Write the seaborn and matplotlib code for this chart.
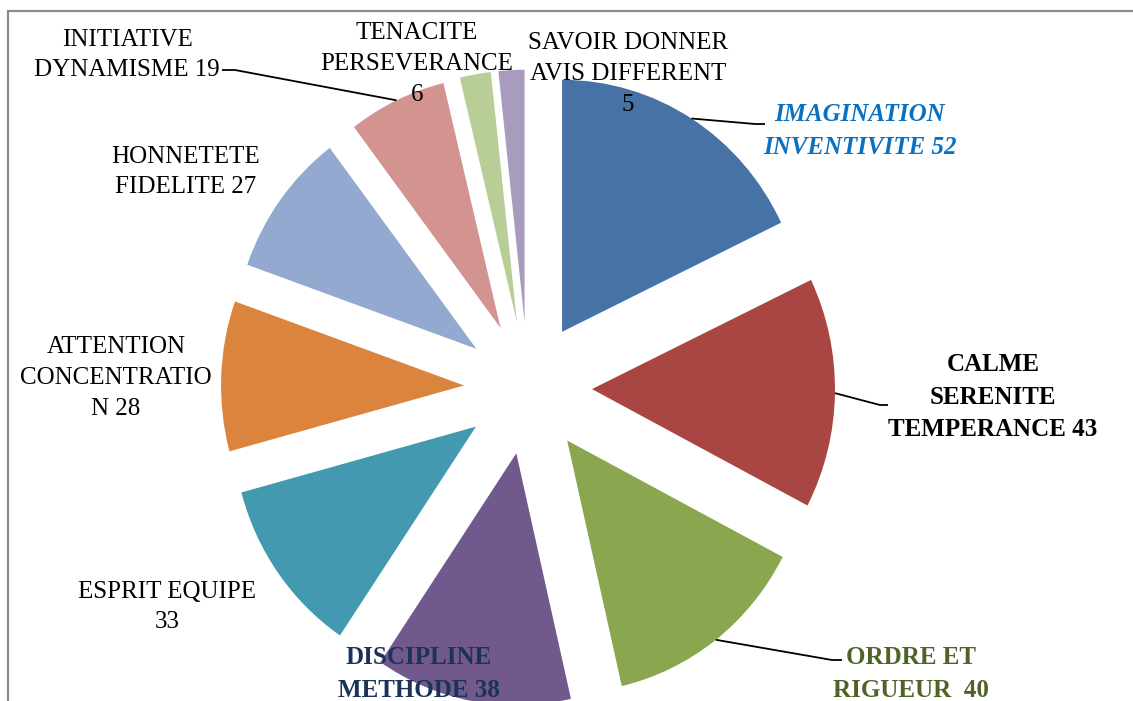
import numpy as np
import matplotlib
matplotlib.use("Agg")
import matplotlib.pyplot as plt
import seaborn as sns

# ---- data ----
categories = ["IMAGINATION\nINVENTIVITE", "CALME\nSERENITE\nTEMPERANCE", "ORDRE ET\nRIGUEUR",
              "DISCIPLINE\nMETHODE", "ESPRIT EQUIPE", "ATTENTION\nCONCENTRATIO\nN",
              "HONNETETE\nFIDELITE", "INITIATIVE\nDYNAMISME", "TENACITE\nPERSEVERANCE",
              "SAVOIR DONNER\nAVIS DIFFERENT"]
values = [52, 43, 40, 38, 33, 28, 27, 19, 6, 5]
value_sep = [" ", " ", "  ", " ", "\n", " ", " ", " ", "\n", "\n"]

# ---- styles ----
slice_colors = ["#4672A6", "#A94643", "#8AA64F", "#71598E", "#4299B0",
                "#DB843D", "#94A9D0", "#D29391", "#B9CE96", "#A99BBD"]
label_colors = ["#0A70C0", "black", "#4F6228", "#1B3356", "black",
                "black", "black", "black", "black", "black"]
label_weight = ["bold", "bold", "bold", "bold", "normal",
                "normal", "normal", "normal", "normal", "normal"]
label_style = ["italic"] + ["normal"] * 9
label_pos = [(860, 131), (993, 397), (911, 674), (419, 674), (167, 607),
             (116, 378), (186, 172), (127, 55), (417, 64), (628, 74)]
# leader lines: (elbow, end) in pixel coords, only for some labels
leaders = {0: [(755, 124), (765, 124)], 1: [(880, 405), (888, 405)],
           2: [(832, 660), (842, 660)], 7: [(235, 70), (222, 70)]}

W, H = 1133, 701
SY = 1.037  # vertical stretch of the original picture
sns.set_style("white")
plt.rcParams["font.family"] = ["Liberation Serif", "DejaVu Serif"]

fig = plt.figure(figsize=(W / 100, H / 100), dpi=100)
ax = fig.add_axes([0, 0, 1, 1])

def py(y):
    return (H - y) / SY

palette = sns.color_palette(slice_colors)
cx, cy, R = 528, py(388), 243
explode_dist = 64
wedges, _ = ax.pie(values, colors=palette, startangle=90, counterclock=False,
                   explode=[explode_dist] * len(values), radius=R, center=(cx, cy),
                   wedgeprops=dict(linewidth=0), frame=True)

ax.set_aspect("auto")
ax.set_xlim(0, W)
ax.set_ylim(0, H / SY)
ax.axis("off")

# leader lines from wedge arc midpoints
for i, pts in leaders.items():
    w = wedges[i]
    th = np.deg2rad((w.theta1 + w.theta2) / 2)
    x0 = w.center[0] + w.r * np.cos(th)
    y0 = w.center[1] + w.r * np.sin(th)
    xs = [x0] + [p[0] for p in pts]
    ys = [y0] + [py(p[1]) for p in pts]
    ax.plot(xs, ys, color="black", lw=1.3, solid_capstyle="butt")

for i, (name, v) in enumerate(zip(categories, values)):
    txt = f"{name}{value_sep[i]}{v}"
    x, y = label_pos[i]
    ax.text(x, py(y), txt, ha="center", va="center", multialignment="center",
            fontsize=18, color=label_colors[i], fontweight=label_weight[i],
            fontstyle=label_style[i], linespacing=1.52)

# chart border (partially cropped)
ax.plot([8, W + 5], [py(11), py(11)], color="#8C8C8C", lw=1.6, clip_on=False)
ax.plot([8, 8], [py(11), -5], color="#8C8C8C", lw=1.6, clip_on=False)

fig.savefig("out.png", dpi=100)
